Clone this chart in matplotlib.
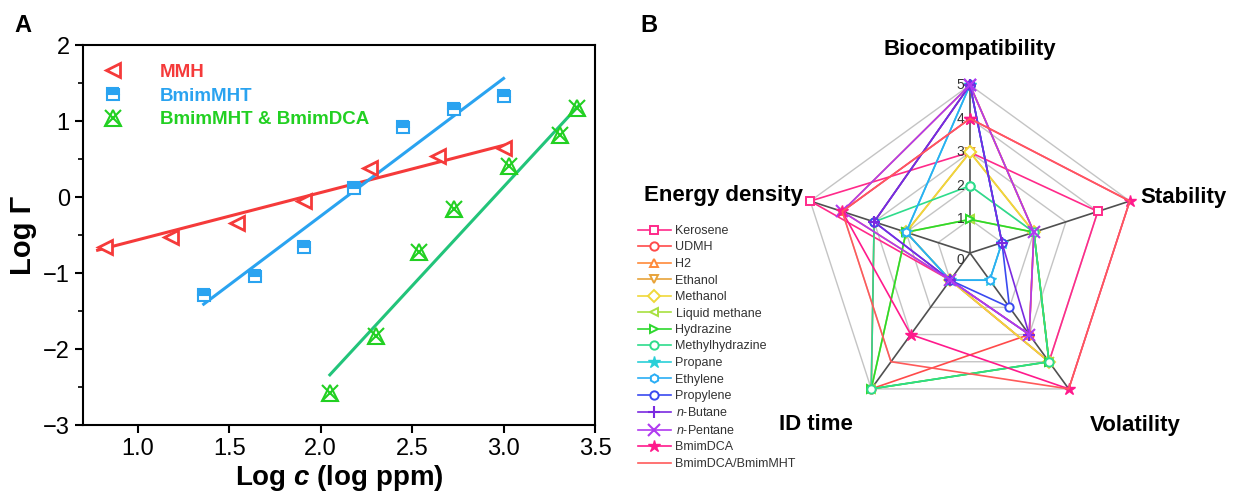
import matplotlib.pyplot as plt
import numpy as np
from matplotlib.legend_handler import HandlerTuple

plt.rcParams['font.family'] = ['Liberation Sans', 'DejaVu Sans']
plt.rcParams['mathtext.fontset'] = 'custom'
plt.rcParams['mathtext.rm'] = 'Liberation Sans'
plt.rcParams['mathtext.it'] = 'Liberation Sans:italic'
plt.rcParams['mathtext.bf'] = 'Liberation Sans:bold'
plt.rcParams['mathtext.bfit'] = 'Liberation Sans:italic:bold'

# ---- panel A data (log c, log Gamma) ----
mmh_x = [0.82, 1.18, 1.54, 1.91, 2.27, 2.64, 3.00]
mmh_y = [-0.66, -0.52, -0.34, -0.05, 0.38, 0.54, 0.65]
mmh_fit_x = [0.78, 3.00]
mmh_fit_y = [-0.70, 0.68]

mht_x = [1.36, 1.64, 1.91, 2.18, 2.45, 2.73, 3.00]
mht_y = [-1.29, -1.04, -0.66, 0.12, 0.92, 1.16, 1.33]
mht_fit_x = [1.36, 3.00]
mht_fit_y = [-1.41, 1.56]

mix_x = [2.05, 2.30, 2.54, 2.73, 3.03, 3.31, 3.40]
mix_y = [-2.58, -1.83, -0.73, -0.16, 0.41, 0.81, 1.17]
mix_fit_x = [2.05, 3.41]
mix_fit_y = [-2.34, 1.20]

# ---- panel B data (scores 0-5) ----
criteria = ['Biocompatibility', 'Stability', 'Volatility', 'ID time', 'Energy density']
fuels = ['Kerosene', 'UDMH', 'H2', 'Ethanol', 'Methanol', 'Liquid methane',
         'Hydrazine', 'Methylhydrazine', 'Propane', 'Ethylene', 'Propylene',
         '$n$-Butane', '$n$-Pentane', 'BmimDCA', 'BmimDCA/BmimMHT']
kerosene = [3, 4, 4, 1, 5]
udmh = [5, 2, 3, 5, 3]
h2 = [5, 2, 3, 1, 4]
ethanol = [3, 2, 4, 1, 2]
methanol = [3, 2, 4, 1, 2]
liquid_methane = [1, 2, 4, 5, 2]
hydrazine = [1, 2, 4, 5, 2]
methylhydrazine = [2, 2, 4, 5, 3]
propane = [5, 1, 1, 1, 2]
ethylene = [5, 1, 1, 1, 2]
propylene = [5, 1, 2, 1, 3]
n_butane = [5, 1, 3, 1, 3]
n_pentane = [5, 2, 3, 1, 4]
bmimdca = [4, 5, 5, 3, 4]
bmimdca_mht = [4, 5, 5, 4, 4]
scores = [kerosene, udmh, h2, ethanol, methanol, liquid_methane, hydrazine,
          methylhydrazine, propane, ethylene, propylene, n_butane, n_pentane,
          bmimdca, bmimdca_mht]

colors = ['#FF2A8A', '#FF4A4A', '#FF8A3A', '#E8A33A', '#F0D83A', '#A8E040',
          '#2ED82E', '#2EDC8C', '#2ACFD8', '#2AAEF5', '#3A4AF0', '#7A2AE0',
          '#B03AF0', '#FF1A8C', '#FF5A5A']
markers = ['s', 'o', '^', 'v', 'D', '<', '>', 'o', '*', 'h', 'o', '+', 'x', '*', None]

fig = plt.figure(figsize=(12.37, 5.03), dpi=100)

# ================= panel A =================
ax = fig.add_axes([83 / 1237, 78 / 503, 512 / 1237, 380 / 503])
red = '#F53A3A'
blue = '#2AA3F0'
green = '#22D022'
teal = '#22C47A'

ax.plot(mmh_fit_x, mmh_fit_y, color=red, lw=2.2)
ax.plot(mht_fit_x, mht_fit_y, color=blue, lw=2.2)
ax.plot(mix_fit_x, mix_fit_y, color=teal, lw=2.2)
h1, = ax.plot(mmh_x, mmh_y, ls='none', marker='<', ms=10, mfc='white', mec=red, mew=2)
h2_, = ax.plot(mht_x, mht_y, ls='none', marker='s', ms=8, fillstyle='top',
               mfc=blue, mfcalt='white', mec=blue, mew=1.5)
h3a, = ax.plot(mix_x, mix_y, ls='none', marker='^', ms=12, mfc='none', mec=green, mew=1.5)
h3b, = ax.plot(mix_x, mix_y, ls='none', marker='x', ms=12, mec=green, mew=1.5)

ax.set_xlim(0.7, 3.5)
ax.set_ylim(-3, 2)
ax.set_xticks([1.0, 1.5, 2.0, 2.5, 3.0, 3.5])
ax.set_xticklabels(['1.0', '1.5', '2.0', '2.5', '3.0', '3.5'])
ax.set_yticks([-3, -2, -1, 0, 1, 2])
ax.set_yticklabels(['\u22123', '\u22122', '\u22121', '0', '1', '2'])
ax.set_yticks(np.arange(-2.5, 2, 1.0), minor=True)
ax.tick_params(axis='both', which='major', direction='out', length=6, width=1.5, labelsize=17)
ax.tick_params(axis='y', which='minor', direction='out', length=3.5, width=1.2)
for s in ax.spines.values():
    s.set_linewidth(1.5)
ax.set_xlabel('Log $\\mathbfit{c}$ (log ppm)', fontsize=20, fontweight='bold', labelpad=2)
ax.set_ylabel('Log \u0393', fontsize=21, fontweight='bold', labelpad=4)

leg = ax.legend([h1, h2_, (h3a, h3b)], ['MMH', 'BmimMHT', 'BmimMHT & BmimDCA'],
                handler_map={tuple: HandlerTuple(ndivide=1, pad=0)},
                loc='upper left', frameon=False, handlelength=1.2,
                handletextpad=1.9, labelspacing=0.35, borderaxespad=0.6,
                prop={'weight': 'bold', 'size': 13.5})
for txt, c in zip(leg.get_texts(), [red, blue, green]):
    txt.set_color(c)

fig.text(14 / 1237, 1 - 25 / 503, 'A', fontsize=17, fontweight='bold', va='center')
fig.text(640 / 1237, 1 - 25 / 503, 'B', fontsize=17, fontweight='bold', va='center')

# ================= panel B =================
cx, cy, R = 970, 253, 168
rax = fig.add_axes([(cx - R) / 1237, (503 - cy - R) / 503, 2 * R / 1237, 2 * R / 503],
                   projection='polar')
rax.set_theta_offset(np.pi / 2)
rax.set_theta_direction(-1)
rax.set_ylim(0, 5)
rax.set_xticks([])
rax.set_yticks([])
rax.grid(False)
rax.spines['polar'].set_visible(False)
rax.patch.set_alpha(0)

theta = np.linspace(0, 2 * np.pi, len(criteria), endpoint=False)
theta_c = np.append(theta, theta[0])
for lvl in range(1, 6):
    rax.plot(theta_c, [lvl] * len(theta_c), color='#C4C4C4', lw=1.0, zorder=1, clip_on=False)
for t in theta:
    rax.plot([t, t], [0, 5], color='#505050', lw=1.2, zorder=2, clip_on=False)
for lvl in range(0, 6):
    rax.annotate(str(lvl), (0, lvl), xytext=(-4, -5 if lvl == 0 else 0),
                 textcoords='offset points', ha='right', va='center',
                 fontsize=10, color='#333333', zorder=6)

for name, vals, c, m in zip(fuels, scores, colors, markers):
    v = np.append(vals, vals[0])
    if m is None:
        rax.plot(theta_c, v, color=c, lw=1.2, label=name, zorder=4, clip_on=False)
    elif m in ('+', 'x'):
        rax.plot(theta_c, v, color=c, lw=1.2, marker=m, ms=8, mew=1.5,
                 label=name, zorder=4, clip_on=False)
    elif m == '*':
        rax.plot(theta_c, v, color=c, lw=1.2, marker=m, ms=9, mfc=c, mec=c,
                 label=name, zorder=4, clip_on=False)
    else:
        rax.plot(theta_c, v, color=c, lw=1.2, marker=m, ms=6, mfc='white',
                 mec=c, mew=1.4, label=name, zorder=4, clip_on=False)

# criteria labels
label_pos = [(970, 50, 'center'), (1140, 198, 'left'), (1135, 425, 'center'),
             (816, 425, 'center'), (803, 196, 'right')]
for name, (px, py, ha) in zip(criteria, label_pos):
    fig.text(px / 1237, 1 - py / 503, name, ha=ha, va='center',
             fontsize=16, fontweight='bold')

handles, labels = rax.get_legend_handles_labels()
rleg = fig.legend(handles, labels, loc='upper left',
                  bbox_to_anchor=(638 / 1237, 1 - 225 / 503), bbox_transform=fig.transFigure,
                  frameon=False, fontsize=9, handlelength=2.6, handletextpad=0.4,
                  labelspacing=0.36, borderpad=0, borderaxespad=0)
for txt in rleg.get_texts():
    txt.set_color('#333333')

fig.savefig('out.png', dpi=100)
